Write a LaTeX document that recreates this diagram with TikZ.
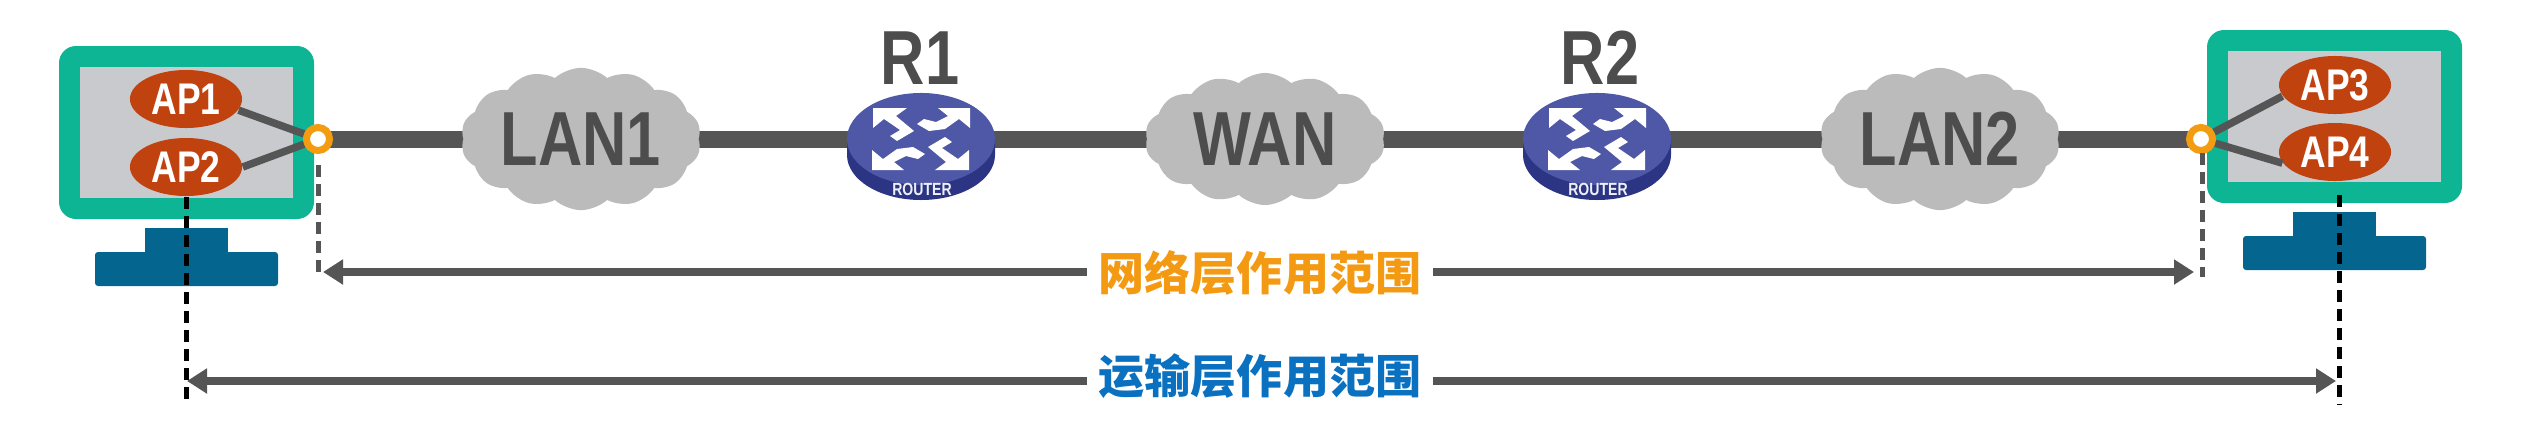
\documentclass[tikz,border=0pt]{standalone}
\usepackage{fontspec}
\newfontfamily\narrowsans[FakeStretch=0.8]{Liberation Sans}
\newfontfamily\cjk{Noto Sans CJK SC}
\usetikzlibrary{shapes,arrows.meta,backgrounds}
\definecolor{pcgreen}{HTML}{0DB594}
\definecolor{pcgray}{HTML}{C9CACE}
\definecolor{pcblue}{HTML}{04668F}
\definecolor{aprust}{HTML}{C0430F}
\definecolor{ringorange}{HTML}{F39C12}
\definecolor{linegray}{HTML}{555555}
\definecolor{cloudgray}{HTML}{BBBBBB}
\definecolor{texgray}{HTML}{4D4D4D}
\definecolor{routertop}{HTML}{4E58A6}
\definecolor{routerside}{HTML}{2C3584}
\definecolor{nettext}{HTML}{F39A12}
\definecolor{transtext}{HTML}{0A70C0}
\tikzset{
	apnode/.style={ellipse, fill=aprust, text=white, minimum width=1.12cm, minimum height=.58cm, inner sep=0pt, font=\narrowsans\bfseries\fontsize{12.6}{13}\selectfont},
	lannode/.style={cloud, cloud puffs=14, cloud puff arc=85, aspect=1.8, fill=cloudgray, text=texgray, minimum width=2.4cm, minimum height=1.32cm, inner sep=0pt, font=\narrowsans\bfseries\fontsize{21.8}{22}\selectfont},
	routernode/.style={ellipse, fill=routertop, minimum width=1.48cm, minimum height=.92cm, inner sep=0pt},
	namenode/.style={text=texgray, inner sep=0pt, font=\narrowsans\bfseries\fontsize{21.8}{22}\selectfont},
	ringnode/.style={circle, draw=ringorange, fill=white, line width=.07cm, minimum size=.23cm, inner sep=0pt},
	rangenode/.style={minimum width=3.45cm, inner sep=0pt, font=\cjk\bfseries\fontsize{13.1}{14}\selectfont},
	linkline/.style={linegray, line width=.17cm},
	apline/.style={linegray, line width=.075cm},
	netdash/.style={linegray, line width=.05cm, dash pattern=on .12cm off .07cm},
	appdash/.style={black, line width=.05cm, dash pattern=on .12cm off .07cm},
	rangeline/.style={linegray, line width=.08cm, -{Triangle[length=.2cm,width=.24cm]}}
}
\newcommand{\pcdraw}[2]{
	\fill[pcgreen, rounded corners=.17cm, shift={(#1,#2)}] (0,0) rectangle (255,173);
	\fill[pcgray, shift={(#1,#2)}] (21,21) rectangle (234,152);
	\fill[pcblue, shift={(#1,#2)}] (86,182) rectangle (169,210);
	\fill[pcblue, rounded corners=.03cm, shift={(#1,#2)}] (36,206) rectangle (219,240);
}
\newcommand{\routerdraw}[3]{
	\fill[routerside] (#1-74,#2) -- (#1-74,#2+16) arc[start angle=180, end angle=0, x radius=74, y radius=45] -- (#1+74,#2) -- cycle;
	\node[routernode] (#3) at (#1,#2) {};
	\foreach \turn in {0,180}{
		\fill[white, rotate around={\turn:(#1,#2)}, shift={(#1,#2)}] (-48,-31) -- (-14,-31) -- (-25,-23) -- (-7,-8) -- (-24,2) -- (-31,-3) -- (-21,-9) -- (-37,-20) -- (-48,-11) -- cycle;
		\fill[white, rotate around={\turn:(#1,#2)}, shift={(#1,#2)}] (49,-31) -- (17,-31) -- (27,-23) -- (15,-17) -- (3,-20) -- (-4,-15) -- (8,-8) -- (24,-10) -- (38,-20) -- (49,-11) -- cycle;
	}
	\node[inner sep=0pt, text=white!90!routertop, font=\narrowsans\bfseries\fontsize{5}{6}\selectfont] (#3tag) at (#1+1,#2+50) {ROUTER};
}
\begin{document}
\begin{tikzpicture}[x=.01cm,y=-.01cm]
	\useasboundingbox (0,0) rectangle (2542,424);
	\pcdraw{59}{46}
	\pcdraw{2207}{30}

	\node[apnode] (ap1) at (186,99) {AP1};
	\node[apnode] (ap2) at (186,167) {AP2};
	\node[apnode] (ap3) at (2335,85) {AP3};
	\node[apnode] (ap4) at (2335,152) {AP4};
	\node[ringnode] (ringl) at (318,139) {};
	\node[ringnode] (ringr) at (2201,139) {};

	\node[lannode] (lan1) at (581,139) {LAN1};
	\node[lannode] (wan) at (1265,139) {WAN};
	\node[lannode] (lan2) at (1940,139) {LAN2};
	\routerdraw{921}{139}{r1}
	\routerdraw{1597}{139}{r2}
	\node[namenode] (r1name) at (920,58) {R1};
	\node[namenode] (r2name) at (1600,58) {R2};

	\begin{pgfonlayer}{background}
		\draw[linkline] (ringl.center) -- (lan1.center);
		\draw[linkline] (lan1.center) -- (r1.center);
		\draw[linkline] (r1.center) -- (wan.center);
		\draw[linkline] (wan.center) -- (r2.center);
		\draw[linkline] (r2.center) -- (lan2.center);
		\draw[linkline] (lan2.center) -- (ringr.center);
	\end{pgfonlayer}
	\draw[apline] (ap1.-12) -- (ringl);
	\draw[apline] (ap2.east) -- (ringl);
	\draw[apline] (ap3.192) -- (ringr);
	\draw[apline] (ap4.192) -- (ringr);

	\coordinate (netl) at (318,165);
	\coordinate (netlend) at (318,277);
	\coordinate (netr) at (2202,153);
	\coordinate (netrend) at (2202,277);
	\draw[netdash] (netl) -- (netlend);
	\draw[netdash] (netr) -- (netrend);
	\coordinate (appl) at (186,197);
	\coordinate (applend) at (186,405);
	\coordinate (appr) at (2339,195);
	\coordinate (apprend) at (2339,405);
	\draw[appdash] (appl) -- (applend);
	\draw[appdash] (appr) -- (apprend);

	\node[rangenode, text=nettext] (netrange) at (1260,273) {网络层作用范围};
	\node[rangenode, text=transtext] (apprange) at (1260,376) {运输层作用范围};
	\coordinate (nettipl) at (323,272);
	\coordinate (nettipr) at (2194,272);
	\coordinate (apptipl) at (187,381);
	\coordinate (apptipr) at (2336,381);
	\draw[rangeline] (netrange.west |- nettipl) -- (nettipl);
	\draw[rangeline] (netrange.east |- nettipr) -- (nettipr);
	\draw[rangeline] (apprange.west |- apptipl) -- (apptipl);
	\draw[rangeline] (apprange.east |- apptipr) -- (apptipr);
\end{tikzpicture}
\end{document}
